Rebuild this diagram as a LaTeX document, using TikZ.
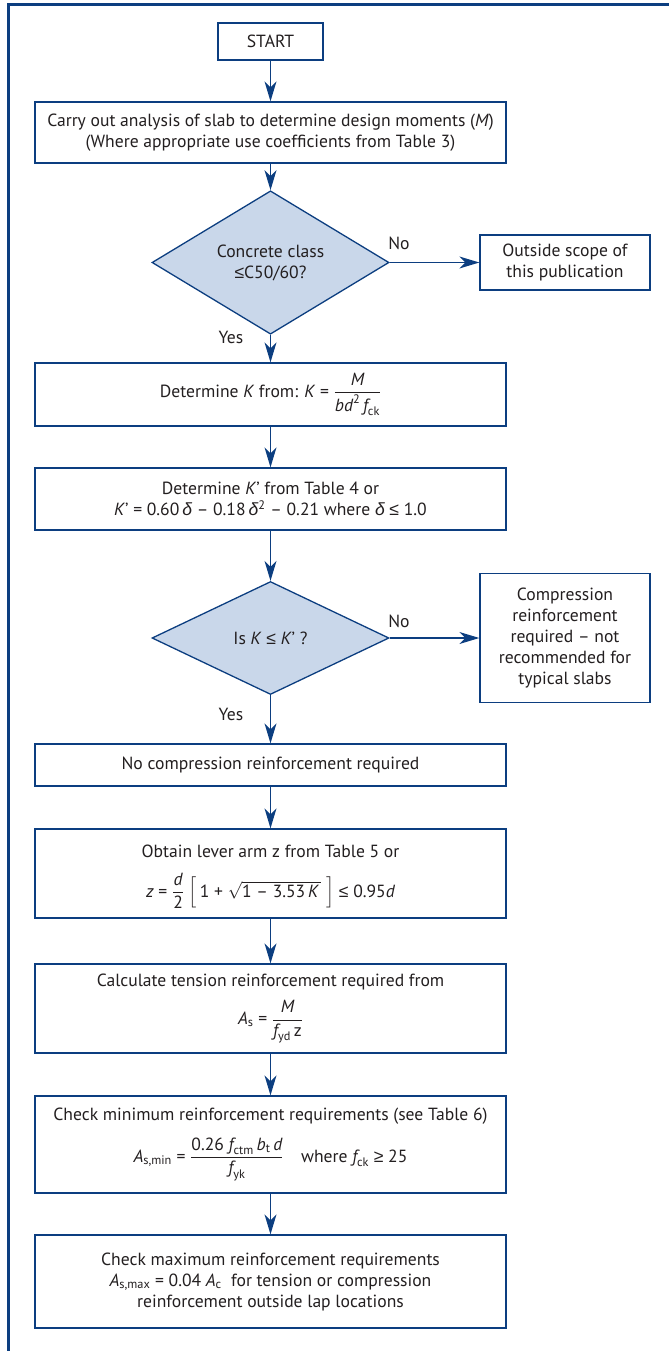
\documentclass[tikz,border=0pt]{standalone}
\usepackage{amsmath}
\usepackage{fontspec}
\setmainfont{PT Sans}
\newfontfamily\symfam{Liberation Sans}
\usetikzlibrary{shapes.geometric,arrows.meta}

\definecolor{navy}{RGB}{12,62,128}
\definecolor{decfill}{RGB}{201,215,234}
\definecolor{ink}{RGB}{35,31,32}

% italic and upright text inside formulas
\newcommand{\vi}[1]{\text{\itshape #1}}
\newcommand{\vr}[1]{\text{#1}}
% Greek delta and relation signs from a family that has them
\newcommand{\dlt}{{\symfam\itshape δ}}
\newcommand{\leqs}{{\symfam ≤}}
\newcommand{\geqs}{{\symfam ≥}}

\tikzset{
  flowbox/.style={draw=navy, line width=1.3pt, fill=white, text=ink, align=center,
    inner sep=0pt, minimum width=#1},
  flowbox/.default=471pt,
  decision/.style={diamond, draw=navy, line width=1.3pt, fill=decfill, text=ink,
    align=center, inner sep=0pt, minimum width=237pt, minimum height=113pt},
  flowarrow/.style={draw=navy, line width=1.3pt,
    -{Stealth[length=20pt,width=12pt,inset=6pt]}},
  answer/.style={text=ink, inner sep=0pt},
  boxline/.style={text=ink, inner sep=0pt}
}

\begin{document}
\begin{tikzpicture}[x=1pt,y=-1pt,font=\fontsize{17.6}{21}\selectfont]
\useasboundingbox (0,0) rectangle (669,1351);

% outer frame
\draw[navy, line width=3pt] (8,1351) -- (8,5) -- (669,5);

\node[flowbox=105pt, minimum height=37pt] (start) at (270.5,41.5) {START};

\node[flowbox, minimum height=61pt] (analysis) at (270.5,132.5)
  {Carry out analysis of slab to determine design moments (\textit{M})\\
   (Where appropriate use coefficients from Table 3)};

\node[decision] (class) at (270.5,262.5) {Concrete class\\\leqs C50/60?};
\node[flowbox=170pt, minimum height=55pt] (scope) at (565,262.5)
  {Outside scope of\\this publication};

\node[flowbox, minimum height=63pt] (findk) at (270.5,394.5)
  {Determine \textit{K} from: \textit{K} = $\dfrac{\vi{M}}{\vi{bd}^{\vr{2}}\,\vi{f}_{\vr{ck}}}$};

\node[flowbox, minimum height=62pt] (findkp) at (270.5,499)
  {Determine \textit{K}’ from Table 4 or\\
   \textit{K}’ = 0.60\,\dlt{} – 0.18\,\dlt$^{\vr{2}}$ – 0.21 where \dlt{} \leqs{} 1.0};

\node[decision] (kcheck) at (270.5,638) {Is \textit{K} \leqs{} \textit{K}’ ?};
\node[flowbox=170pt, minimum height=129pt] (comp) at (565,638)
  {Compression\\reinforcement\\required – not\\recommended for\\typical slabs};

\node[flowbox, minimum height=42pt] (nocomp) at (270.5,765)
  {No compression reinforcement required};

% lever arm box: frame plus its two lines of text
\node[flowbox, minimum height=89pt] (lever) at (270.5,873.5) {};
\node[boxline] (leverhead) at (270.5,851) {Obtain lever arm z from Table 5 or};
\node[boxline] (leverformula) at (270.5,891)
  {$\vi{z}\vr{ = }\dfrac{\vi{d}}{\vr{2}}\;\Bigl[\,\vr{1 + }\sqrt{\vr{1 – 3.53}\,\vi{K}\,}\;\Bigr]\vr{ \leqs{} 0.95}\vi{d}$};

\node[flowbox, minimum height=89pt] (tension) at (270.5,1008.5)
  {Calculate tension reinforcement required from\\[9pt]
   $\vi{A}_{\vr{s}}\vr{ = }\dfrac{\vi{M}}{\vi{f}_{\vr{yd}}\,\vr{z}}$};

\node[flowbox, minimum height=97pt] (minreq) at (270.5,1144.5)
  {Check minimum reinforcement requirements (see Table 6)\\[12pt]
   $\vi{A}_{\vr{s,min}}\vr{ = }\dfrac{\vr{0.26 }\vi{f}_{\vr{ctm}}\,\vi{b}_{\vr{t}}\,\vi{d}}{\vi{f}_{\vr{yk}}}\vr{\quad where }\vi{f}_{\vr{ck}}\vr{ \geqs{} 25}$};

\node[flowbox, minimum height=93pt] (maxreq) at (270.5,1281.5)
  {Check maximum reinforcement requirements\\
   \textit{A}$_{\vr{s,max}}$ = 0.04 \textit{A}$_{\vr{c}}$\ \ for tension or compression\\
   reinforcement outside lap locations};

% answer labels
\node[answer] at (399,243) {No};
\node[answer] at (231,337) {Yes};
\node[answer] at (399,621) {No};
\node[answer] at (231,714) {Yes};

% connectors
\draw[flowarrow] (start) -- (analysis);
\draw[flowarrow] (analysis) -- (class);
\draw[flowarrow] (class.east) -- (scope.west);
\draw[flowarrow] (class.south) -- (findk);
\draw[flowarrow] (findk) -- (findkp);
\draw[flowarrow] (findkp) -- (kcheck);
\draw[flowarrow] (kcheck.east) -- (comp.west);
\draw[flowarrow] (kcheck.south) -- (nocomp);
\draw[flowarrow] (nocomp) -- (lever);
\draw[flowarrow] (lever) -- (tension);
\draw[flowarrow] (tension) -- (minreq);
\draw[flowarrow] (minreq) -- (maxreq);
\end{tikzpicture}
\end{document}
